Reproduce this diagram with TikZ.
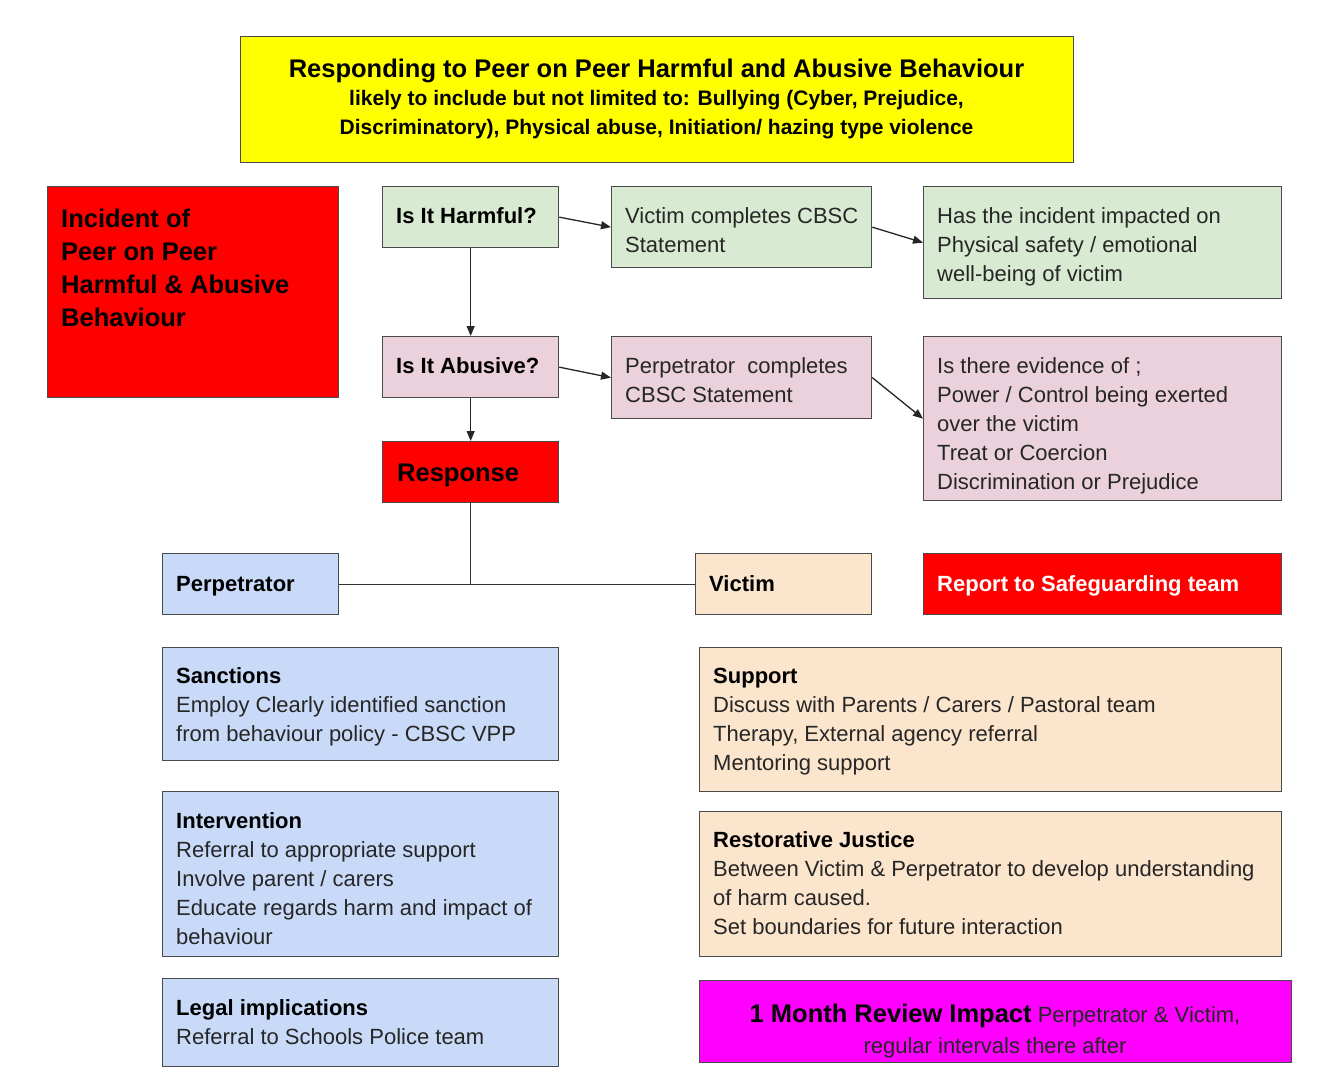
\documentclass[tikz,border=0pt]{standalone}
\usepackage{fontspec}
\setmainfont{Liberation Sans}
\usetikzlibrary{arrows.meta}
\definecolor{cgreen}{HTML}{D9EAD3}
\definecolor{cpink}{HTML}{EAD1DC}
\definecolor{cblue}{HTML}{C9DAF8}
\definecolor{cpeach}{HTML}{FCE5CD}
\definecolor{cred}{HTML}{FF0000}
\definecolor{cyellow}{HTML}{FFFF00}
\definecolor{cmagenta}{HTML}{FF00FF}
\definecolor{ink}{HTML}{262626}
\definecolor{edge}{HTML}{4A4A4A}

\begin{document}
\begin{tikzpicture}[x=1pt,y=-1pt,
  box/.style={draw=edge, line width=1.3pt, rectangle, inner sep=0pt, anchor=north west},
  tx/.style={anchor=base west, inner sep=0pt, text=ink, font=\fontsize{22}{29}\selectfont},
  txc/.style={anchor=base, inner sep=0pt, text=black, font=\fontsize{22}{29}\selectfont},
  arr/.style={-{Triangle[length=10pt,width=8pt]}, line width=1.3pt, draw=black!85},
  link/.style={line width=1.3pt, draw=black!80}
]
\useasboundingbox (0,0) rectangle (1324,1088);
\fill[white] (0,0) rectangle (1324,1088);

% ---- boxes ----
\node[box, fill=cyellow, minimum width=833pt, minimum height=126pt] (title) at (240,36) {};
\node[box, fill=cred, minimum width=291pt, minimum height=211pt] (incident) at (47,186) {};

\node[box, fill=cgreen, minimum width=176pt, minimum height=61pt] (harm) at (382,186) {};
\node[box, fill=cgreen, minimum width=260pt, minimum height=81pt] (vcs) at (611,186) {};
\node[box, fill=cgreen, minimum width=358pt, minimum height=112pt] (impact) at (923,186) {};

\node[box, fill=cpink, minimum width=176pt, minimum height=61pt] (abuse) at (382,336) {};
\node[box, fill=cpink, minimum width=260pt, minimum height=82pt] (pcs) at (611,336) {};
\node[box, fill=cpink, minimum width=358pt, minimum height=164pt] (evidence) at (923,336) {};

\node[box, fill=cred, minimum width=176pt, minimum height=61pt] (resp) at (382,441) {};

\node[box, fill=cblue, minimum width=176pt, minimum height=61pt] (perp) at (162,553) {};
\node[box, fill=cpeach, minimum width=176pt, minimum height=61pt] (vic) at (695,553) {};
\node[box, fill=cred, minimum width=358pt, minimum height=61pt] (report) at (923,553) {};

\node[box, fill=cblue, minimum width=396pt, minimum height=113pt] (sanct) at (162,647) {};
\node[box, fill=cblue, minimum width=396pt, minimum height=165pt] (interv) at (162,791) {};
\node[box, fill=cblue, minimum width=396pt, minimum height=88pt] (legal) at (162,978) {};

\node[box, fill=cpeach, minimum width=582pt, minimum height=144pt] (support) at (699,647) {};
\node[box, fill=cpeach, minimum width=582pt, minimum height=145pt] (restor) at (699,811) {};
\node[box, fill=cmagenta, minimum width=592pt, minimum height=82pt] (review) at (699,980) {};

% ---- texts ----
\node[txc] (title-t) at (656.5,77) {\parbox[t]{820pt}{\centering
  {\fontsize{25.5}{32}\selectfont\bfseries Responding to Peer on Peer Harmful and Abusive Behaviour}\\[-1pt]
  {\fontsize{21}{29}\selectfont\bfseries likely to include but not limited to: Bullying (Cyber, Prejudice,\\
  Discriminatory), Physical abuse, Initiation/ hazing type violence}}};

\node[tx, text=black, font=\fontsize{25.5}{33.3}\selectfont\bfseries] (incident-t) at (61,227)
  {\parbox[t]{270pt}{Incident of\\Peer on Peer\\Harmful \& Abusive\\Behaviour}};

\node[tx, text=black, font=\fontsize{22}{29}\selectfont\bfseries] (harm-t) at (396,223) {Is It Harmful?};
\node[tx] (vcs-t) at (625,223) {\parbox[t]{240pt}{Victim completes CBSC\\Statement}};
\node[tx] (impact-t) at (937,223) {\parbox[t]{340pt}{Has the incident impacted on\\Physical safety / emotional\\well-being of victim}};

\node[tx, text=black, font=\fontsize{22}{29}\selectfont\bfseries] (abuse-t) at (396,373) {Is It Abusive?};
\node[tx] (pcs-t) at (625,373) {\parbox[t]{240pt}{Perpetrator~ completes\\CBSC Statement}};
\node[tx] (evidence-t) at (937,373) {\parbox[t]{340pt}{Is there evidence of ;\\Power / Control being exerted\\over the victim\\Treat or Coercion\\Discrimination or Prejudice}};

\node[tx, text=black, font=\fontsize{25.5}{32}\selectfont\bfseries] (resp-t) at (397,481) {Response};

\node[tx, text=black, font=\fontsize{22}{29}\selectfont\bfseries] (perp-t) at (176,591) {Perpetrator};
\node[tx, text=black, font=\fontsize{22}{29}\selectfont\bfseries] (vic-t) at (709,591) {Victim};
\node[tx, text=white, font=\fontsize{22}{29}\selectfont\bfseries] (report-t) at (937,591) {Report to Safeguarding team};

\node[tx] (sanct-t) at (176,683) {\parbox[t]{380pt}{\textcolor{black}{\bfseries Sanctions}\\Employ Clearly identified sanction\\from behaviour policy - CBSC VPP}};
\node[tx] (interv-t) at (176,828) {\parbox[t]{380pt}{\textcolor{black}{\bfseries Intervention}\\Referral to appropriate support\\Involve parent / carers\\Educate regards harm and impact of\\behaviour}};
\node[tx] (legal-t) at (176,1015) {\parbox[t]{380pt}{\textcolor{black}{\bfseries Legal implications}\\Referral to Schools Police team}};

\node[tx] (support-t) at (713,683) {\parbox[t]{560pt}{\textcolor{black}{\bfseries Support}\\Discuss with Parents / Carers / Pastoral team\\Therapy, External agency referral\\Mentoring support}};
\node[tx] (restor-t) at (713,847) {\parbox[t]{560pt}{\textcolor{black}{\bfseries Restorative Justice}\\Between Victim \& Perpetrator to develop understanding\\of harm caused.\\Set boundaries for future interaction}};

\node[txc, text=ink, font=\fontsize{22}{31}\selectfont] (review-t) at (995,1022) {\parbox[t]{580pt}{\centering\leavevmode
  \textcolor{black}{\fontsize{25.5}{31}\selectfont\bfseries 1 Month Review Impact} Perpetrator \& Victim,\\
  regular intervals there after}};

% ---- connectors ----
\draw[arr] (harm.east) -- (vcs.west);
\draw[arr] (vcs.east) -- (impact.west);
\draw[arr] (abuse.east) -- (pcs.west);
\draw[arr] (pcs.east) -- (evidence.west);
\draw[arr] (harm.south) -- (abuse.north);
\draw[arr] (abuse.south) -- (resp.north);
\draw[link] (perp.east) -- (vic.west);
\draw[link] (resp.south) -- (resp.south |- perp.east);
\end{tikzpicture}
\end{document}
